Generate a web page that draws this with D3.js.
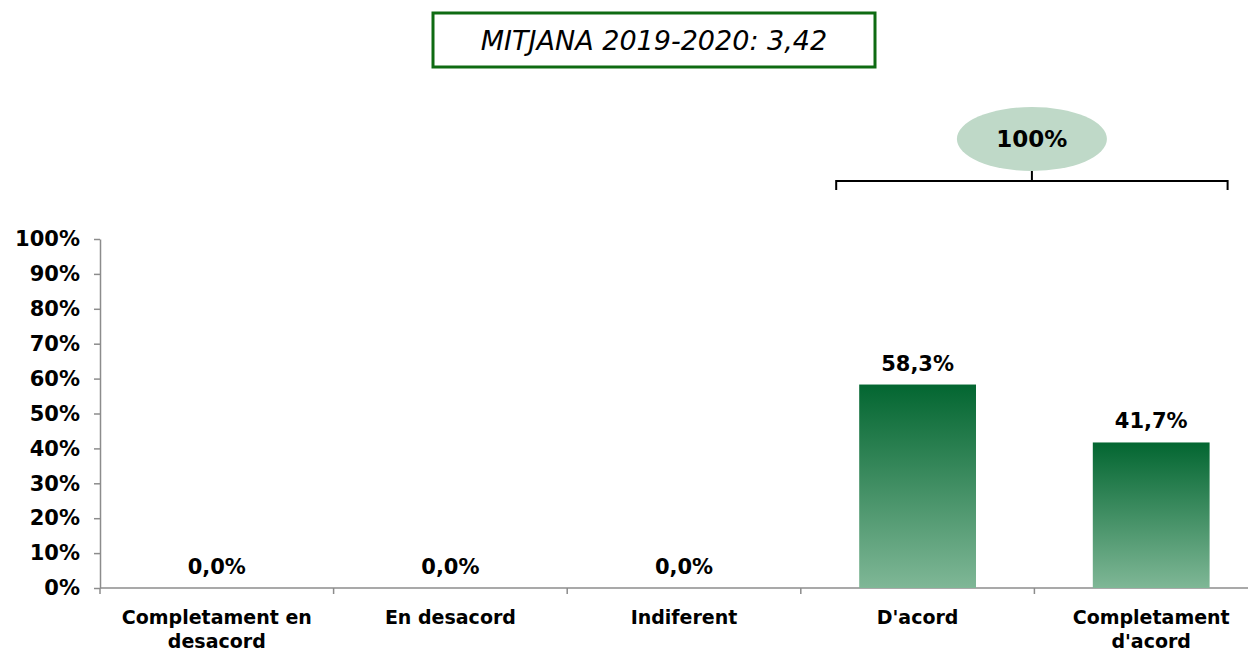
<!DOCTYPE html>
<html>
<head>
<meta charset="utf-8">
<script src="https://cdn.jsdelivr.net/npm/d3@7"></script>
<style>
  body { margin: 0; background: #fff; }
  svg text { font-family: "DejaVu Sans", Verdana, sans-serif; }
</style>
</head>
<body>
<div id="chart"></div>
<script>
// Bar chart of agreement levels, with mean box and grouped total
const CATEGORIES = [
  ["Completament en", "desacord"],
  ["En desacord"],
  ["Indiferent"],
  ["D'acord"],
  ["Completament", "d'acord"],
];
const VALUES = [0, 0, 0, 58.3, 41.7];
const Y_TICKS = [0, 10, 20, 30, 40, 50, 60, 70, 80, 90, 100];
const TITLE = "MITJANA 2019-2020: 3,42";
const GROUP_LABEL = "100%";
const GROUP_CATS = [3, 4];

(function () {
  const width = 1248, height = 652;
  const margin = { top: 239, right: -20, bottom: 64, left: 100 };
  const innerWidth = width - margin.left - margin.right;
  const innerHeight = height - margin.top - margin.bottom;

  const svg = d3.select("#chart").append("svg").attr("width", width).attr("height", height);

  const defs = svg.append("defs");
  const grad = defs.append("linearGradient")
    .attr("id", "barGrad").attr("x1", 0).attr("y1", 0).attr("x2", 0).attr("y2", 1);
  grad.append("stop").attr("offset", "0%").attr("stop-color", "#036631");
  grad.append("stop").attr("offset", "100%").attr("stop-color", "#7fb796");

  const g = svg.append("g").attr("transform", `translate(${margin.left},${margin.top})`);

  const x = d3.scaleBand().domain(d3.range(CATEGORIES.length)).range([0, innerWidth]).paddingInner(0.5).paddingOuter(0.25);
  const y = d3.scaleLinear().domain([0, 100]).range([innerHeight, 0]);

  // y axis
  const yAxis = g.append("g")
    .call(d3.axisLeft(y).tickValues(Y_TICKS).tickSize(6).tickSizeOuter(0).tickFormat((d) => d + "%"));
  yAxis.select(".domain").attr("stroke", "#8c8c8c").attr("stroke-width", 1.5);
  yAxis.selectAll(".tick line").attr("stroke", "#8c8c8c").attr("stroke-width", 1.5);
  yAxis.selectAll(".tick text")
    .attr("x", -20).attr("fill", "#000")
    .style("font-size", "21px").style("font-weight", "bold");

  // x axis line + ticks at band edges
  const step = x.step();
  const x0 = x(0) - x.paddingOuter() * step;
  g.append("line")
    .attr("x1", 0).attr("x2", innerWidth)
    .attr("y1", innerHeight).attr("y2", innerHeight)
    .attr("stroke", "#8c8c8c").attr("stroke-width", 1.5);
  g.selectAll("line.xtick")
    .data(d3.range(CATEGORIES.length + 1))
    .join("line")
    .attr("class", "xtick")
    .attr("x1", (i) => x0 + i * step).attr("x2", (i) => x0 + i * step)
    .attr("y1", innerHeight).attr("y2", innerHeight + 6)
    .attr("stroke", "#8c8c8c").attr("stroke-width", 1.5);

  // bars
  g.selectAll("rect.bar")
    .data(VALUES)
    .join("rect")
    .attr("class", "bar")
    .attr("x", (d, i) => x(i))
    .attr("y", (d) => y(d))
    .attr("width", x.bandwidth())
    .attr("height", (d) => innerHeight - y(d))
    .attr("fill", "url(#barGrad)");

  // value labels
  g.selectAll("text.val")
    .data(VALUES)
    .join("text")
    .attr("class", "val")
    .attr("x", (d, i) => x(i) + x.bandwidth() / 2)
    .attr("y", (d) => (d === 0 ? innerHeight - 14 : y(d) - 14))
    .attr("text-anchor", "middle")
    .style("font-size", "21px").style("font-weight", "bold")
    .text((d) => d.toFixed(1).replace(".", ",") + "%");

  // category labels
  const cat = g.selectAll("text.cat")
    .data(CATEGORIES)
    .join("text")
    .attr("class", "cat")
    .attr("text-anchor", "middle")
    .style("font-size", "19px").style("font-weight", "bold");
  cat.selectAll("tspan")
    .data((d, i) => d.map((line) => ({ line, i })))
    .join("tspan")
    .attr("x", (d) => x(d.i) + x.bandwidth() / 2)
    .attr("y", (d, j) => innerHeight + 36 + j * 24)
    .text((d) => d.line);

  // title box
  const tb = svg.append("g").attr("transform", "translate(654,40)");
  tb.append("rect")
    .attr("x", -221).attr("y", -27).attr("width", 442).attr("height", 54)
    .attr("fill", "#fff").attr("stroke", "#0e6b12").attr("stroke-width", 3);
  tb.append("text")
    .attr("text-anchor", "middle").attr("dy", "0.36em")
    .style("font-size", "27px").style("font-style", "italic")
    .text(TITLE);

  // group bracket and ellipse
  const bx1 = margin.left + x(GROUP_CATS[0]) - 23;
  const bx2 = margin.left + x(GROUP_CATS[1]) + x.bandwidth() + 18;
  const bmid = (bx1 + bx2) / 2;
  const by = 181;
  svg.append("path")
    .attr("d", `M${bx1},${by + 9}V${by}H${bx2}V${by + 9}M${bmid},${by}V${by - 10}`)
    .attr("fill", "none").attr("stroke", "#000").attr("stroke-width", 2);
  svg.append("ellipse")
    .attr("cx", bmid).attr("cy", 139).attr("rx", 75).attr("ry", 32)
    .attr("fill", "#bfd9c8");
  svg.append("text")
    .attr("x", bmid).attr("y", 139).attr("dy", "0.36em")
    .attr("text-anchor", "middle")
    .style("font-size", "23px").style("font-weight", "bold")
    .text(GROUP_LABEL);
})();
</script>
</body>
</html>
